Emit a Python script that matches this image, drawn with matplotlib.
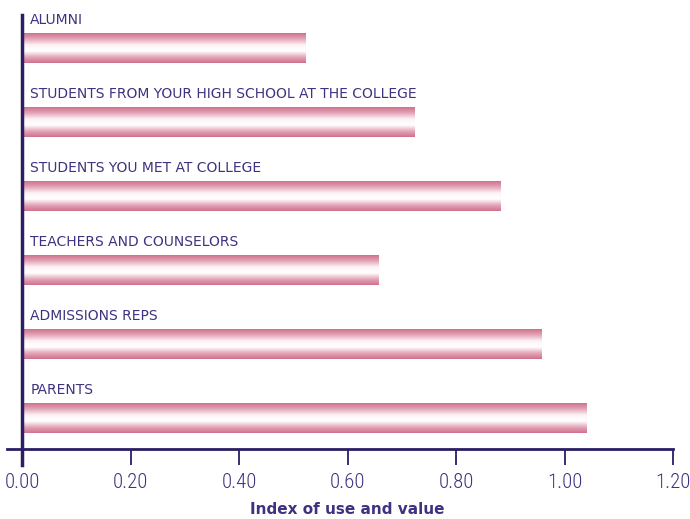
import matplotlib.pyplot as plt
import matplotlib as mpl
import numpy as np
from matplotlib.colors import LinearSegmentedColormap

categories = ['PARENTS', 'ADMISSIONS REPS', 'TEACHERS AND COUNSELORS',
              'STUDENTS YOU MET AT COLLEGE',
              'STUDENTS FROM YOUR HIGH SCHOOL AT THE COLLEGE', 'ALUMNI']
values = [1.04, 0.957, 0.657, 0.882, 0.723, 0.522]
xticks = [0.0, 0.2, 0.4, 0.6, 0.8, 1.0, 1.2]

navy = '#2b1d66'
text_col = '#3d3380'

fig = plt.figure(figsize=(6.9, 5.19), dpi=100)
ax = fig.add_axes([22 / 690, 1 - 449 / 519, (673 - 22) / 690, (449 - 15) / 519])

# pink -> white -> pink shading across each bar
shade = LinearSegmentedColormap.from_list(
    'bar', ['#d0708c', '#e4a7b9', '#fdf3f6', '#ffffff', '#e4a7b9', '#d0708c'])
grad = np.linspace(0, 1, 256).reshape(-1, 1)

h = 0.40
for i, (name, v) in enumerate(zip(categories, values)):
    ax.imshow(grad, cmap=shade, aspect='auto', extent=[0, v, i - h / 2, i + h / 2],
              origin='upper', interpolation='bilinear', zorder=2)
    ax.text(0.015, i + 0.385, name, fontsize=10, color=text_col, va='center',
            ha='left', family='DejaVu Sans')

ax.set_xlim(0, 1.2)
ax.set_ylim(-0.419, 5.446)
ax.set_xticks(xticks)
ax.set_xticklabels(['%.2f' % t for t in xticks],
                   family=['Roboto Condensed', 'Roboto', 'DejaVu Sans'],
                   fontweight='light', fontstretch='condensed')
ax.set_yticks([])

for s in ['top', 'right', 'left', 'bottom']:
    ax.spines[s].set_visible(False)

# axis lines, both running a little past the corner
ax.plot([-0.027, 1.2], [-0.419, -0.419], color=navy, lw=2, clip_on=False, zorder=3)
ax.plot([0, 0], [-0.419 - 16 / 74, 5.446], color=navy, lw=2.5, clip_on=False, zorder=3)

ax.tick_params(axis='x', direction='out', length=11.5, width=1.3, color=navy,
               labelcolor=text_col, labelsize=15, pad=6)
ax.set_xlabel('Index of use and value', fontsize=11, fontweight='bold',
              color=text_col, family='DejaVu Sans', labelpad=7)

fig.savefig('out.png', dpi=100)
